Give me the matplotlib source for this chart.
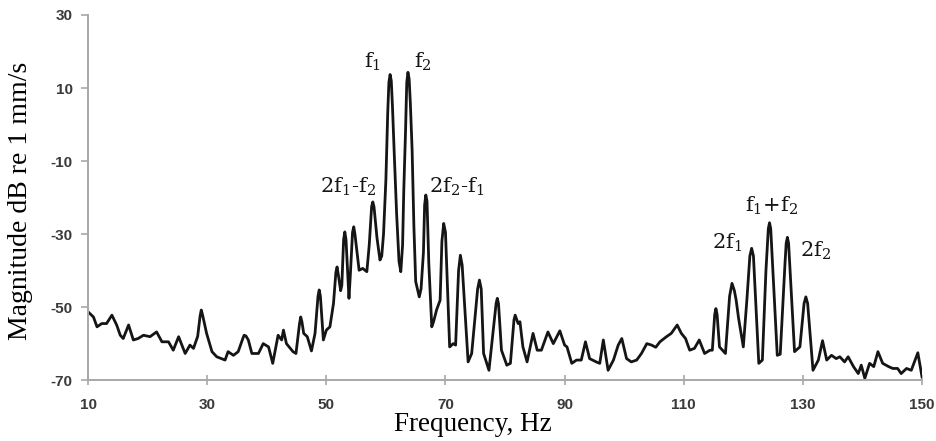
import matplotlib
matplotlib.use('Agg')
import matplotlib.pyplot as plt

# spectrum (Hz, dB re 1 mm/s)
freq = [10.0, 10.9, 11.5, 12.3, 13.1, 14.0, 14.8, 15.4, 15.9, 16.8, 17.6, 18.4, 19.3, 20.4,
        21.5, 22.4, 23.5, 24.3, 25.2, 26.3, 27.1, 27.7, 28.4, 28.8, 29.0, 29.2, 29.9, 30.8, 31.6,
        32.4, 33.0, 33.5, 34.4, 35.2, 36.0, 36.2, 36.5, 36.9, 37.5, 38.6, 39.4, 40.3, 41.0, 41.9, 42.5,
        42.8, 43.3, 44.4, 44.9, 45.5, 45.7, 45.9, 46.2, 46.8, 47.5, 48.1, 48.6, 48.8, 49.0, 49.5,
        50.0, 50.6, 51.2, 51.6, 51.8, 52.0, 52.4, 52.6, 52.9, 53.1, 53.3, 53.8, 54.0, 54.4, 54.6,
        54.8, 55.5, 56.1, 56.8, 57.2, 57.6, 57.8, 58.0, 58.5, 59.0, 59.3, 59.6, 60.0, 60.3, 60.5,
        60.7, 60.9, 61.1, 61.4, 61.8, 62.2, 62.5, 62.8, 63.0, 63.3, 63.5, 63.7, 63.9, 64.1, 64.4,
        64.7, 65.0, 65.6, 65.9, 66.3, 66.5, 66.7, 66.9, 67.2, 67.7, 68.0, 68.5, 69.1, 69.4, 69.7,
        70.0, 70.7, 71.3, 71.7, 72.2, 72.5, 72.8, 73.8, 74.4, 75.4, 75.7, 76.0, 76.4, 77.3, 77.9,
        78.5, 78.7, 78.9, 79.4, 80.3, 80.9, 81.5, 81.7, 82.2, 82.5, 83.0, 83.7, 84.7, 85.4, 86.1,
        87.2, 88.1, 89.2, 90.0, 90.4, 91.2, 92.0, 92.8, 93.5, 94.2, 95.3, 95.9, 96.5, 97.3, 98.2,
        99.0, 99.6, 100.4, 101.2, 102.1, 102.9, 103.8, 104.6, 105.3, 106.0, 107.1, 107.9, 108.9,
        109.6, 110.3, 111.0, 111.8, 112.6, 113.5, 114.4, 114.8, 115.2, 115.4, 115.6, 116.0, 117.0,
        117.7, 118.1, 118.5, 118.8, 119.2, 120.0, 120.6, 121.1, 121.4, 121.7, 122.6, 123.2, 123.8,
        124.2, 124.4, 124.6, 125.7, 126.2, 127.0, 127.2, 127.4, 127.6, 128.6, 129.5, 130.2, 130.5,
        130.8, 131.7, 132.6, 133.3, 134.0, 134.8, 135.6, 136.2, 137.0, 137.6, 138.5, 139.3, 139.8,
        140.4, 141.2, 141.9, 142.6, 143.4, 144.4, 145.1, 145.9, 146.5, 147.4, 148.2, 149.3, 150.0]
mag = [-51.3, -52.7, -55.4, -54.5, -54.5, -52.2, -54.9, -57.7, -58.6, -54.9, -59.0, -58.6, -57.7, -58.1,
       -56.8, -59.5, -59.5, -61.8, -58.1, -62.7, -60.4, -61.3, -58.0, -52.5, -50.8, -52.0, -57.2, -62.2, -63.6,
       -64.1, -64.5, -62.2, -63.2, -62.2, -58.5, -57.7, -57.9, -59.0, -62.7, -62.7, -60.0, -60.9, -65.4, -57.7, -59.0,
       -56.3, -60.0, -62.2, -62.7, -54.5, -52.7, -54.0, -57.2, -58.1, -62.0, -57.2, -47.0, -45.3, -47.0, -59.0,
       -56.3, -55.4, -49.0, -40.5, -39.0, -41.0, -45.5, -44.0, -31.5, -29.4, -31.5, -47.6, -42.0, -29.5, -28.0,
       -30.0, -39.9, -39.4, -40.3, -33.0, -22.5, -21.2, -22.5, -31.0, -37.1, -36.0, -30.0, -15.0, 3.0, 11.5,
       13.7, 12.0, 5.0, -8.0, -24.5, -37.5, -40.3, -33.0, -18.0, -1.5, 11.5, 14.3, 12.5, 6.0, -7.0,
       -28.0, -43.0, -47.2, -45.0, -35.0, -22.0, -19.3, -21.0, -38.0, -55.4, -54.0, -50.8, -48.1, -32.0, -27.1,
       -29.5, -60.9, -60.0, -60.4, -40.0, -35.8, -38.5, -65.0, -62.7, -45.0, -42.6, -45.0, -62.7, -67.3, -58.1,
       -49.0, -47.6, -49.0, -61.8, -65.9, -65.4, -53.5, -52.2, -54.5, -54.0, -60.9, -65.0, -57.2, -61.8, -61.8,
       -56.8, -60.0, -56.5, -60.4, -60.9, -65.4, -64.5, -64.5, -59.5, -64.1, -65.0, -65.4, -59.0, -67.3, -64.5,
       -60.4, -58.6, -64.1, -65.0, -64.5, -62.7, -60.0, -60.4, -61.0, -59.5, -58.1, -57.2, -54.9,
       -57.2, -58.6, -61.8, -61.3, -59.0, -62.7, -61.8, -61.8, -52.0, -50.4, -52.0, -60.9, -62.7,
       -47.0, -43.5, -45.5, -48.1, -53.0, -60.9, -48.0, -36.0, -33.9, -36.0, -65.4, -64.5, -40.0,
       -28.5, -26.9, -28.5, -63.2, -62.9, -38.0, -32.5, -30.9, -32.5, -62.2, -60.9, -49.0, -47.2,
       -49.0, -67.3, -64.5, -59.2, -64.5, -63.2, -64.1, -63.6, -65.0, -63.6, -66.3, -68.2, -65.9,
       -69.5, -65.4, -66.3, -62.2, -65.4, -66.3, -66.8, -66.8, -68.2, -66.8, -67.3, -62.5, -69.1]

# peak labels: text, x, y
labels = ['f$_1$', 'f$_2$', '2f$_1$-f$_2$', '2f$_2$-f$_1$', '2f$_1$', 'f$_1$+f$_2$', '2f$_2$']
label_x = [57.8, 66.2, 53.7, 71.9, 117.3, 124.8, 132.1]
label_y = [17.1, 17.1, -17.1, -17.1, -32.3, -22.3, -34.6]

xticks = [10, 30, 50, 70, 90, 110, 130, 150]
yticks = [-70, -50, -30, -10, 10, 30]

plt.rcParams['mathtext.fontset'] = 'dejavuserif'
plt.rcParams['axes.unicode_minus'] = False

fig = plt.figure(figsize=(9.37, 4.41), dpi=100)
ax = fig.add_axes([0.094, 0.138, 0.890, 0.828])

ax.plot(freq, mag, color='#151515', linewidth=2.0, solid_joinstyle='round')

for t, x, y in zip(labels, label_x, label_y):
    ax.text(x, y, t, ha='center', va='center', fontsize=15, family='DejaVu Serif', color='#151515')

ax.set_xlim(10, 150)
ax.set_ylim(-70, 30)
ax.set_xticks(xticks)
ax.set_yticks(yticks)

for side in ['top', 'right']:
    ax.spines[side].set_visible(False)
for side in ['left', 'bottom']:
    ax.spines[side].set_color('#a8a8a8')
    ax.spines[side].set_linewidth(1.4)

ax.tick_params(axis='x', direction='inout', length=7, width=1.2, color='#a8a8a8',
               labelcolor='#3a3a3a', labelsize=11, pad=9)
ax.tick_params(axis='y', direction='out', length=5, width=1.2, color='#a8a8a8',
               labelcolor='#3a3a3a', labelsize=11, pad=6)
for lbl in ax.get_xticklabels() + ax.get_yticklabels():
    lbl.set_fontweight('bold')
    lbl.set_family('Liberation Sans')

ax.set_xlabel('Frequency, Hz', family='Liberation Serif', fontsize=19.5)
ax.set_ylabel('Magnitude dB re 1 mm/s', family='Liberation Serif', fontsize=20)
ax.xaxis.set_label_coords(0.462, -0.088)
ax.yaxis.set_label_coords(-0.066, 0.49)

fig.savefig('out.png', dpi=100)
